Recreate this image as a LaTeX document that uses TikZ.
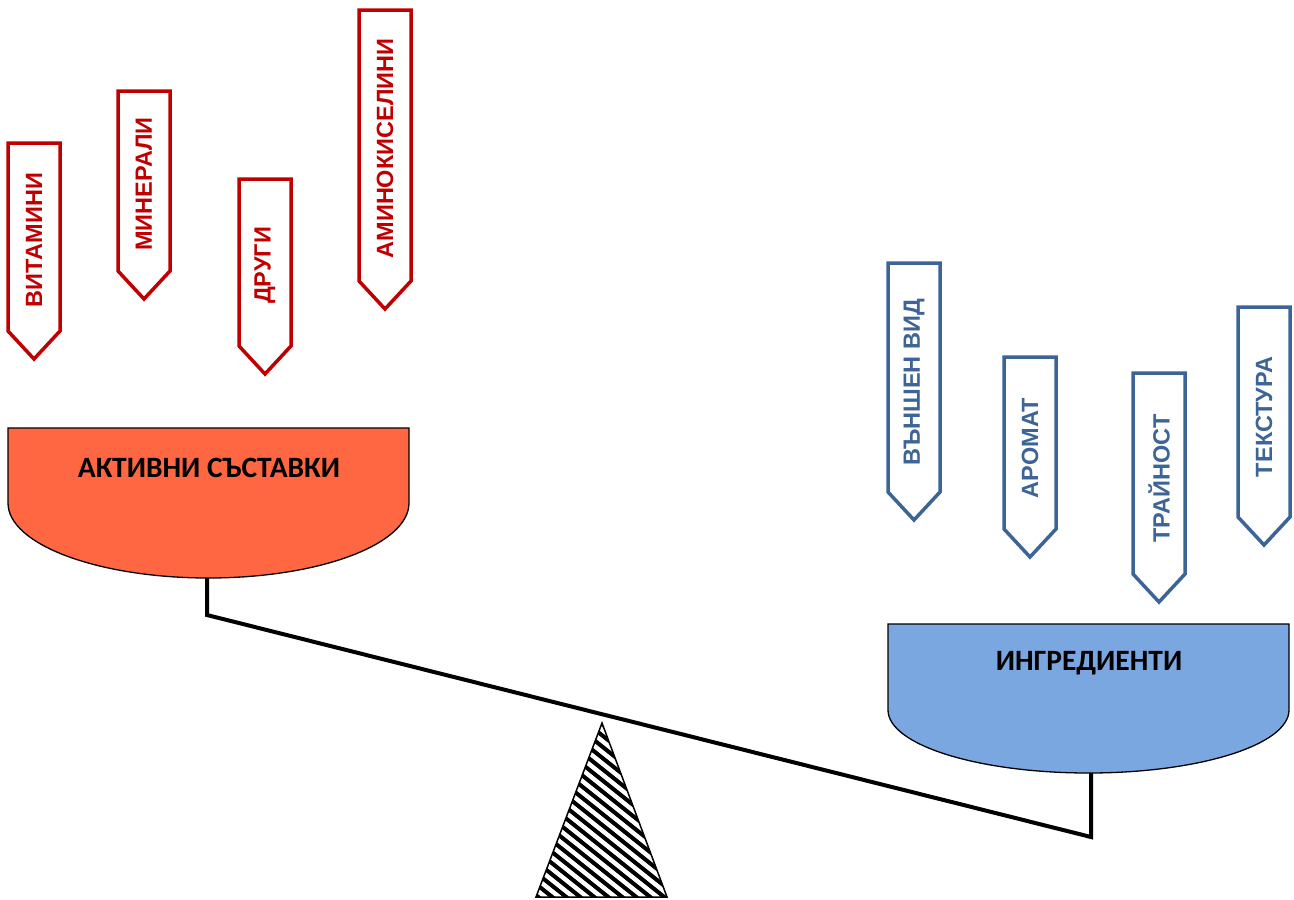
\documentclass[tikz,border=0pt]{standalone}
\usepackage{fontspec}
\newfontfamily\tagfont{Liberation Sans}
\newfontfamily\panfont{Carlito}
\definecolor{tagred}{HTML}{C00000}
\definecolor{tagblue}{HTML}{3C6496}
\definecolor{panred}{HTML}{FF6642}
\definecolor{panblue}{HTML}{7AA7DF}
\tikzset{
  redtag/.style={draw=tagred, line width=3.5pt, fill=white, line join=miter},
  bluetag/.style={draw=tagblue, line width=3.5pt, fill=white, line join=miter},
  tagtext/.style={rotate=90, font=\tagfont\bfseries\fontsize{23.5}{26}\selectfont, inner sep=0pt},
  pantext/.style={font=\panfont\bfseries\fontsize{29.5}{32}\selectfont, inner sep=0pt},
  pan/.style={draw=black, line width=1.3pt},
  beam/.style={draw=black, line width=4pt, line join=miter}
}
\begin{document}
\begin{tikzpicture}[x=1pt, y=-1pt]
  \useasboundingbox (0,0) rectangle (1294,900);
  % red tags
  \foreach \x/\t/\b/\n/\lab in {8/143/331/vit/ВИТАМИНИ, 118/91/271/min/МИНЕРАЛИ,
      239/179/346/dru/ДРУГИ, 359/10/281/ami/АМИНОКИСЕЛИНИ} {
    \draw[redtag] (\x,\t) -- (\x+52,\t) -- (\x+52,\b) -- (\x+26,\b+28) -- (\x,\b) -- cycle;
    \node[tagtext, text=tagred] (\n) at (\x+26,{(\t+\b)/2+3}) {\lab};
  }
  % blue tags
  \foreach \x/\t/\b/\n/\lab in {888/263/492/vid/ВЪНШЕН ВИД, 1004/357/529/aro/АРОМАТ,
      1133/373/574/tra/ТРАЙНОСТ, 1238/307/517/tex/ТЕКСТУРА} {
    \draw[bluetag] (\x,\t) -- (\x+52,\t) -- (\x+52,\b) -- (\x+26,\b+28) -- (\x,\b) -- cycle;
    \node[tagtext, text=tagblue] (\n) at (\x+26,{(\t+\b)/2+5}) {\lab};
  }
  % pans
  \draw[pan, fill=panred] (8,428) -- (409,428) -- (409,503)
    arc[start angle=0, end angle=-180, x radius=200.5pt, y radius=75pt] -- cycle;
  \node[pantext] (activ) at (209,468) {АКТИВНИ СЪСТАВКИ};
  \draw[pan, fill=panblue] (888,624) -- (1289,624) -- (1289,710)
    arc[start angle=0, end angle=-180, x radius=200.5pt, y radius=63pt] -- cycle;
  \node[pantext] (ingr) at (1089,663) {ИНГРЕДИЕНТИ};
  % beam
  \coordinate (lpan) at (207,578);
  \coordinate (lend) at (207,615);
  \coordinate (rend) at (1091,837);
  \coordinate (rpan) at (1091,773);
  \draw[beam] (lpan) -- (lend) -- (rend) -- (rpan);
  % fulcrum
  \coordinate (apex) at (602,723);
  \coordinate (bl) at (536,897);
  \coordinate (br) at (667,897);
  \begin{scope}
    \clip (apex) -- (br) -- (bl) -- cycle;
    \foreach \i in {250,264,...,680}
      \draw[line width=4pt] (\i,700) -- (\i+250,900);
  \end{scope}
  \draw[line width=1.5pt, line join=miter] (apex) -- (br) -- (bl) -- cycle;
\end{tikzpicture}
\end{document}
